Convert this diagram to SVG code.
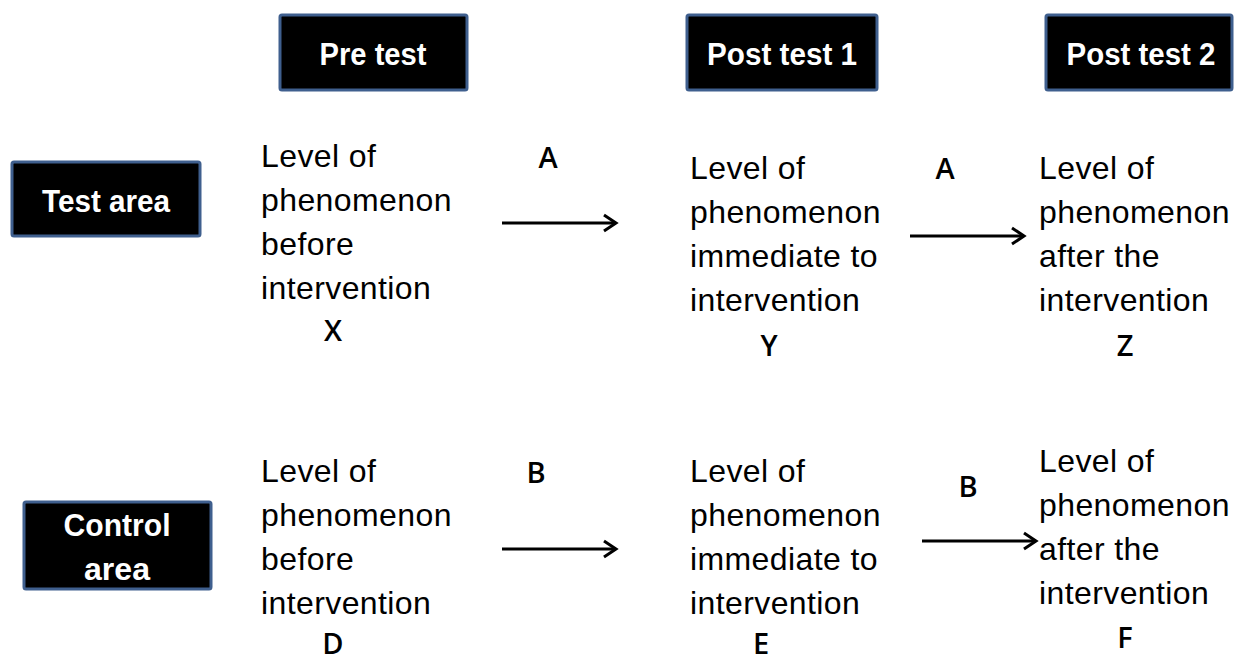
<svg xmlns="http://www.w3.org/2000/svg" width="1234" height="657" viewBox="0 0 1234 657">
<style>
.box{fill:#000;stroke:#3F5F8E;stroke-width:3}
.hd{font-family:"Liberation Sans",Arial,sans-serif;font-weight:bold;font-size:32px;fill:#fff;text-anchor:middle}
.tx{font-family:"Liberation Sans",Arial,sans-serif;font-size:32px;letter-spacing:0.4px;fill:#000}
.lb{font-family:"Open Sans","Liberation Sans",sans-serif;font-weight:600;font-size:29px;fill:#000;text-anchor:middle}
.ar{stroke:#000;stroke-width:3;fill:none}
</style>
<defs>
<marker id="ah" markerUnits="userSpaceOnUse" markerWidth="20" markerHeight="20" viewBox="-14 -10 16 20" refX="0" refY="0" orient="auto">
<polyline points="-12,-8 0,0 -12,8" fill="none" stroke="#000" stroke-width="3"/>
</marker>
</defs>
<rect width="1234" height="657" fill="#fff"/>
<g id="pre-test"><rect class="box" x="280" y="15" width="187" height="75" rx="2"/><text class="hd" x="373" y="65" textLength="107" lengthAdjust="spacingAndGlyphs">Pre test</text></g>
<g id="post-test-1"><rect class="box" x="687" y="15" width="190" height="75" rx="2"/><text class="hd" x="782" y="65" textLength="150" lengthAdjust="spacingAndGlyphs">Post test 1</text></g>
<g id="post-test-2"><rect class="box" x="1046" y="15" width="186" height="75" rx="2"/><text class="hd" x="1141" y="65" textLength="149" lengthAdjust="spacingAndGlyphs">Post test 2</text></g>
<g id="test-area"><rect class="box" x="12" y="162" width="188" height="74" rx="2"/><text class="hd" x="106" y="212" textLength="128" lengthAdjust="spacingAndGlyphs">Test area</text></g>
<g id="control-area"><rect class="box" x="24" y="502" width="187" height="87" rx="2"/><text class="hd" x="117" y="536" textLength="107" lengthAdjust="spacingAndGlyphs">Control</text><text class="hd" x="117" y="580" textLength="66" lengthAdjust="spacingAndGlyphs">area</text></g>

<g id="x-node"><text class="tx" x="261" y="167">Level of</text><text class="tx" x="261" y="211">phenomenon</text><text class="tx" x="261" y="255">before</text><text class="tx" x="261" y="299">intervention</text><text class="lb" x="333" y="341">X</text></g>
<g id="y-node"><text class="tx" x="690" y="179">Level of</text><text class="tx" x="690" y="223">phenomenon</text><text class="tx" x="690" y="267">immediate to</text><text class="tx" x="690" y="311">intervention</text><text class="lb" x="769" y="356">Y</text></g>
<g id="z-node"><text class="tx" x="1039" y="179">Level of</text><text class="tx" x="1039" y="223">phenomenon</text><text class="tx" x="1039" y="267">after the</text><text class="tx" x="1039" y="311">intervention</text><text class="lb" x="1125" y="356">Z</text></g>
<g id="d-node"><text class="tx" x="261" y="482">Level of</text><text class="tx" x="261" y="526">phenomenon</text><text class="tx" x="261" y="570">before</text><text class="tx" x="261" y="614">intervention</text><text class="lb" x="333" y="654">D</text></g>
<g id="e-node"><text class="tx" x="690" y="482">Level of</text><text class="tx" x="690" y="526">phenomenon</text><text class="tx" x="690" y="570">immediate to</text><text class="tx" x="690" y="614">intervention</text><text class="lb" x="761" y="654">E</text></g>
<g id="f-node"><text class="tx" x="1039" y="472">Level of</text><text class="tx" x="1039" y="516">phenomenon</text><text class="tx" x="1039" y="560">after the</text><text class="tx" x="1039" y="604">intervention</text><text class="lb" x="1125" y="648">F</text></g>

<g id="connectors">
<line class="ar" x1="502" y1="223" x2="616" y2="223" marker-end="url(#ah)"/>
<line class="ar" x1="910" y1="236" x2="1024" y2="236" marker-end="url(#ah)"/>
<line class="ar" x1="502" y1="549" x2="616" y2="549" marker-end="url(#ah)"/>
<line class="ar" x1="922" y1="541" x2="1036" y2="541" marker-end="url(#ah)"/>
<text class="lb" x="548" y="168">A</text>
<text class="lb" x="945" y="179">A</text>
<text class="lb" x="536" y="483">B</text>
<text class="lb" x="968" y="497">B</text>
</g>
</svg>
